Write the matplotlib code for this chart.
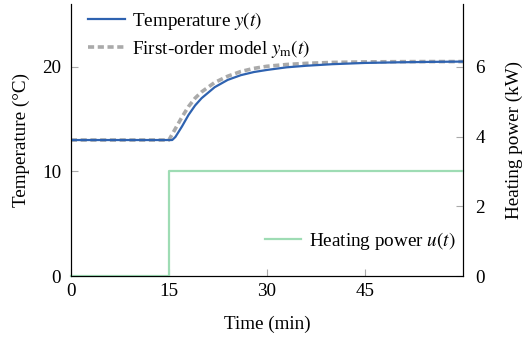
import numpy as np
import matplotlib.pyplot as plt

plt.rcParams['font.family'] = ['Liberation Serif', 'DejaVu Serif']
plt.rcParams['mathtext.fontset'] = 'stix'
plt.rcParams['font.size'] = 13.8

# measured room temperature y(t)
t_meas = [0, 5, 10, 15, 15.5, 16, 17, 18, 19, 20, 22, 24, 26, 28, 30, 33, 36, 40, 45, 50, 55, 60]
y_meas = [13.0, 13.0, 13.0, 13.0, 13.0, 13.3, 14.3, 15.4, 16.3, 17.0, 18.05, 18.75, 19.2, 19.5,
          19.7, 19.95, 20.1, 20.25, 20.37, 20.43, 20.47, 20.5]

# first-order model y_m(t)
t_model = [0, 5, 10, 15, 16, 17, 18, 19, 20, 22, 24, 26, 28, 30, 33, 36, 40, 45, 50, 55, 60]
y_model = [13.0, 13.0, 13.0, 13.0, 14.1, 15.2, 16.2, 17.0, 17.6, 18.5, 19.1, 19.55, 19.85, 20.05,
           20.22, 20.33, 20.42, 20.47, 20.49, 20.5, 20.5]

# heating power u(t)
t_power = [0, 15, 60]
u_power = [0, 3, 3]

fig, ax = plt.subplots(figsize=(5.25, 3.37), dpi=100)
fig.subplots_adjust(left=0.135, right=0.882, top=0.988, bottom=0.181)
ax2 = ax.twinx()

ax.plot(t_meas, y_meas, color='#2e62b0', lw=1.6, label=r'Temperature $y(t)$', zorder=3)
ax.plot(t_model, y_model, color='#aaaaaa', lw=2.6, ls=(0, (1.7, 1.0)),
        label=r'First-order model $y_\mathrm{m}(t)$', zorder=2)
ax2.plot(t_power, u_power, color='#9edcb4', lw=1.6, drawstyle='steps-post',
         label=r'Heating power $u(t)$', clip_on=False)

ax.set_xlim(0, 60)
ax.set_ylim(0, 26)
ax2.set_ylim(0, 7.8)
ax.set_xticks([0, 15, 30, 45])
ax.set_yticks([0, 10, 20])
ax2.set_yticks([0, 2, 4, 6])

for a in (ax, ax2):
    a.spines['top'].set_visible(False)
    a.tick_params(direction='in', length=5, width=0.8, color='#aaaaaa', pad=5)
ax.tick_params(axis='y', pad=7)
ax2.tick_params(axis='y', pad=9)

ax.set_xlabel('Time (min)', labelpad=11)
ax.set_ylabel('Temperature (°C)', labelpad=9)
ax2.set_ylabel('Heating power (kW)', labelpad=15)

ax.legend(loc='upper left', frameon=False, handlelength=1.9, handletextpad=0.4,
          borderaxespad=0.0, borderpad=0.3, labelspacing=0.33, bbox_to_anchor=(0.03, 1.0))
ax2.legend(loc='lower right', frameon=False, handlelength=1.9, handletextpad=0.4,
           borderaxespad=0.0, bbox_to_anchor=(1.0, 0.06))

fig.savefig('out.png', dpi=100)
